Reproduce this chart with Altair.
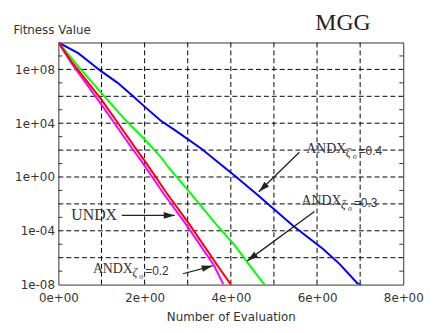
import altair as alt
import pandas as pd

# ---------------- data ----------------
blue_x = [0, 0.46, 0.99, 1.375, 1.68, 2.02, 2.37, 2.71, 3.31, 4.07, 4.61, 5.45, 6.14, 6.52, 6.94, 7.02]
blue_y = [1e10, 1.6e9, 7.4e7, 1e7, 1.4e6, 1.5e5, 1.6e4, 2.9e3, 1.3e2, 1.4, 4.9e-2, 2.3e-4, 4.4e-6, 3.5e-7, 1.2e-8, 1e-8]

green_x = [0, 0.46, 0.99, 1.53, 2.02, 2.37, 2.54, 3.0, 3.69, 4.07, 4.38, 4.76, 4.8]
green_y = [1e10, 1.7e8, 1.9e6, 2.1e4, 5.4e2, 32, 5.8, 0.11, 2.3e-4, 1.0e-5, 4.7e-7, 1.2e-8, 1e-8]

red_x = [0, 0.3, 0.99, 1.45, 1.82, 1.99, 2.51, 3.04, 3.69, 4.0]
red_y = [1e10, 4e8, 6.2e5, 5e3, 1e2, 18, 6.5e-2, 3e-4, 2.6e-7, 1e-8]

magenta_x = [0, 0.3, 0.99, 1.74, 1.91, 2.43, 2.96, 3.61, 3.83]
magenta_y = [1e10, 3e8, 2.6e5, 98, 18, 6.5e-2, 3e-4, 2.6e-7, 1e-8]

series_names = ["ANDX0.4", "ANDX0.3", "UNDX", "ANDX0.2"]
series_colors = ["#0000ff", "#00ff00", "#ff0000", "#ff00ff"]

x_grid_values = [1, 2, 3, 4, 5, 6, 7]
x_label_values = [0, 2, 4, 6, 8]
x_labels = ["0e+00", "2e+00", "4e+00", "6e+00", "8e+00"]

y_grid_values = [1e-6, 1e-4, 1e-2, 1, 1e2, 1e4, 1e6, 1e8]
y_label_values = [1e-8, 1e-4, 1, 1e4, 1e8]
y_label_exps = [-8, -4, 0, 4, 8]
y_labels = ["1e-08", "1e-04", "1e+00", "1e+04", "1e+08"]
y_minor_values = [1e9, 1e7, 1e5, 1e3, 1e1, 1e-1, 1e-3, 1e-5, 1e-7]

chart_title = "MGG"

# annotation labels (anchor = left/baseline of the main word)
ann_text = ["ANDX", "ANDX", "ANDX", "UNDX"]
ann_x = [5.75, 5.64, 0.80, 0.30]
ann_y = [59, 7.6e-3, 7.6e-8, 6.0e-4]
ann_size = [14, 14, 14, 16]
sub_values = ["=0.4", "=0.3", "=0.2"]

# arrows: start -> end
arr_x = [5.59, 5.94, 1.47, 2.89]
arr_y = [70, 2.7e-3, 1.4e-3, 6.4e-8]
arr_x2 = [4.65, 4.38, 2.70, 3.58]
arr_y2 = [0.080, 5.8e-7, 1.4e-3, 2.5e-7]
arr_angle = [225.7, 233.7, 90, 75]

# ---------------- tables ----------------
rows = []
for name, xs, ys in [("ANDX0.4", blue_x, blue_y), ("ANDX0.3", green_x, green_y),
                     ("ANDX0.2", magenta_x, magenta_y), ("UNDX", red_x, red_y)]:
    for i, (a, b) in enumerate(zip(xs, ys)):
        rows.append({"series": name, "x": a, "y": b, "order": i})
curves = pd.DataFrame(rows)

ann = pd.DataFrame({"text": ann_text, "x": ann_x, "y": ann_y, "size": ann_size})
subs = pd.DataFrame({"x": ann_x[:3], "y": ann_y[:3], "eq": sub_values})
arrows = pd.DataFrame({"x": arr_x, "y": arr_y, "x2": arr_x2, "y2": arr_y2, "ang": arr_angle})
minor = pd.DataFrame({"y": y_minor_values})
hgrid = pd.DataFrame({"y": y_grid_values})
vgrid = pd.DataFrame({"x": x_grid_values})
title_df = pd.DataFrame({"t": [chart_title]})

# ---------------- axes ----------------
x_expr = " : ".join(f"datum.value == {v} ? '{l}'" for v, l in zip(x_label_values, x_labels)) + " : ''"
y_expr = " : ".join(f"round(log(datum.value)/LN10) == {e} ? '{l}'" for e, l in zip(y_label_exps, y_labels)) + " : ''"

FONT = "DejaVu Sans"
xscale = alt.Scale(domain=[0, 8], nice=False, zero=False)
yscale = alt.Scale(type="log", domain=[1e-8, 1e10], nice=False)

x_axis = alt.Axis(values=x_label_values, labelExpr=x_expr, grid=False, ticks=False, domain=False,
                  labelFont=FONT, labelFontSize=12, labelColor="#333", labelPadding=8,
                  labelFlush=False, labelOverlap=False,
                  title="Number of Evaluation", titleFont=FONT, titleFontSize=12,
                  titleFontWeight="normal", titleColor="#333", titlePadding=8)
y_axis = alt.Axis(values=y_label_values, labelExpr=y_expr, grid=False, ticks=False, domain=False,
                  labelFont=FONT, labelFontSize=12, labelColor="#333", labelPadding=4,
                  labelFlush=False, labelOverlap=False,
                  title="Fitness Value", titleAngle=0, titleX=-46, titleY=-9,
                  titleAlign="left", titleBaseline="alphabetic", titleFont=FONT,
                  titleFontSize=12, titleFontWeight="normal", titleColor="#333")

X = alt.X("x:Q", scale=xscale, axis=x_axis)
Y = alt.Y("y:Q", scale=yscale, axis=y_axis)

hgrid_layer = alt.Chart(hgrid).mark_rule(color="black", strokeWidth=1, strokeDash=[5, 3]).encode(y=Y)
vgrid_layer = alt.Chart(vgrid).mark_rule(color="black", strokeWidth=1, strokeDash=[5, 3]).encode(x=X)

lines = alt.Chart(curves).mark_line(strokeWidth=2, clip=True).encode(
    x=X, y=Y,
    color=alt.Color("series:N", scale=alt.Scale(domain=series_names, range=series_colors), legend=None),
    order="order:Q",
    detail="series:N",
)

minor_left = alt.Chart(minor).mark_rule(color="#333", strokeWidth=1).encode(
    x=alt.value(0), x2=alt.value(4), y=Y)
minor_right = alt.Chart(minor).mark_rule(color="#333", strokeWidth=1).encode(
    x=alt.value(345), x2=alt.value(349), y=Y)

arrow_lines = alt.Chart(arrows).mark_rule(color="#222", strokeWidth=1.3).encode(
    x=X, y=Y, x2="x2:Q", y2="y2:Q")
arrow_heads = alt.Chart(arrows).mark_point(
    shape="M0,0 L0.3,1 L-0.3,1 Z", filled=True, color="#222", opacity=1, size=500
).encode(x=alt.X("x2:Q", scale=xscale, axis=x_axis), y=alt.Y("y2:Q", scale=yscale, axis=y_axis),
         angle=alt.Angle("ang:Q", scale=None))

labels = alt.Chart(ann).mark_text(align="left", baseline="alphabetic",
                                  font="Liberation Serif", color="#333").encode(
    x=X, y=Y, text="text:N", size=alt.Size("size:Q", scale=None))
zeta = alt.Chart(subs).mark_text(align="left", baseline="alphabetic", font="Liberation Serif",
                                 fontStyle="italic", fontSize=12, dx=40, dy=3, color="#333").encode(
    x=X, y=Y, text=alt.value("ζ"))
osub = alt.Chart(subs).mark_text(align="left", baseline="alphabetic", font="Liberation Serif",
                                 fontStyle="italic", fontSize=8, dx=47, dy=6, color="#333").encode(
    x=X, y=Y, text=alt.value("o"))
eq = alt.Chart(subs).mark_text(align="left", baseline="alphabetic", font="Liberation Sans",
                               fontSize=12, dx=53, dy=2, color="#333").encode(
    x=X, y=Y, text="eq:N")

title_mark = alt.Chart(title_df).mark_text(
    align="left", baseline="alphabetic", font="Liberation Serif", fontSize=24, color="#222"
).encode(x=alt.value(260), y=alt.value(-13), text="t:N")

chart = alt.layer(
    hgrid_layer, vgrid_layer, lines, minor_left, minor_right, arrow_lines, arrow_heads,
    labels, zeta, osub, eq, title_mark
).properties(
    width=349, height=245,
    autosize=alt.AutoSizeParams(type="none"),
    padding={"left": 51, "top": 33, "right": 22, "bottom": 41},
).configure_view(stroke="#333", strokeWidth=1)

chart.save("out.html", embed_options={"renderer": "svg", "actions": False})
